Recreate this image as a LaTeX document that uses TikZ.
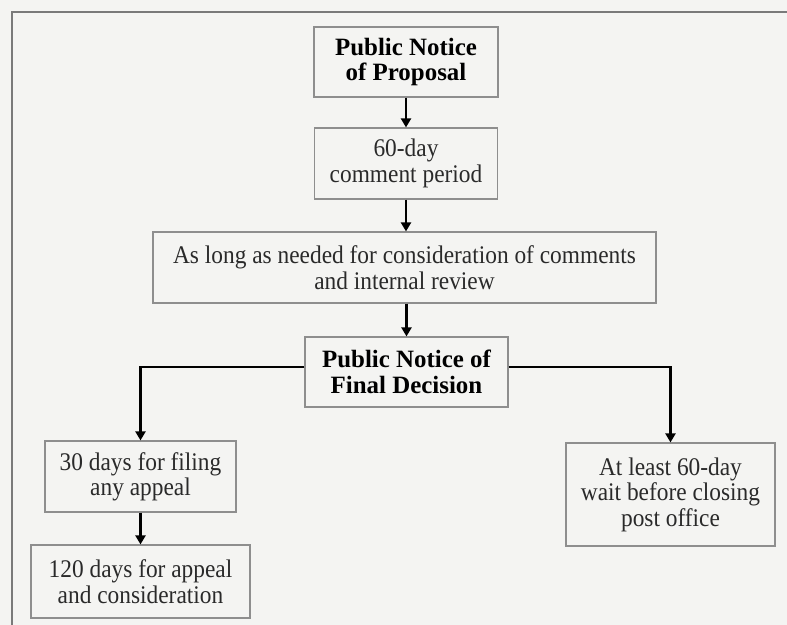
\documentclass[tikz,border=0pt]{standalone}
\usepackage{fontspec}
\setmainfont{Liberation Serif}
\newfontfamily\condfont{Liberation Serif}[FakeStretch=0.92]
\usetikzlibrary{arrows.meta}
\definecolor{bgcol}{HTML}{F4F4F2}
\definecolor{boxgray}{HTML}{8E8E8E}
\definecolor{framegray}{HTML}{7A7A7A}
\definecolor{textgray}{HTML}{2A2A2A}
\begin{document}
\begin{tikzpicture}[x=1bp,y=-1bp,
  box/.style={draw=boxgray, line width=1.2bp, align=center, inner sep=0pt,
    text=textgray, font=\condfont\fontsize{25.5}{25.5}\selectfont},
  boldbox/.style={box, text=black, font=\fontsize{25}{25.5}\selectfont\bfseries},
  arr/.style={line width=2.3bp, -{Triangle[width=10bp,length=9bp]}}]
\fill[bgcol] (0,0) rectangle (787,625);
\useasboundingbox (0,0) rectangle (787,625);
\draw[framegray, line width=2bp] (12,625) -- (12,12) -- (787,12);

\node[boldbox, minimum width=184bp, minimum height=70bp] (b1) at (406,62) {Public Notice\\of Proposal};
\node[box, minimum width=183bp, minimum height=71bp] (b2) at (406,163.5) {60-day\\comment period};
\node[box, minimum width=503bp, minimum height=71bp] (b3) at (404.5,267.5) {As long as needed for consideration of comments\\and internal review};
\node[boldbox, minimum width=203bp, minimum height=70bp] (b4) at (406.5,372) {Public Notice of\\Final Decision};
\node[box, minimum width=191bp, minimum height=71bp] (b5) at (140.5,476.5) {30 days for filing\\any appeal};
\node[box, minimum width=219bp, minimum height=73bp] (b6) at (140.5,581.5) {120 days for appeal\\and consideration};
\node[box, minimum width=209bp, minimum height=103bp] (b7) at (670.5,494.5) {At least 60-day\\wait before closing\\post office};

\draw[arr] (b1.south -| b2.north) -- (b2.north);
\draw[arr] (b2.south) -- (b2.south |- b3.north);
\draw[arr] (b3.south -| b4.north) -- (b4.north);
\draw[arr] ([yshift=5bp]b4.west) -| (b5.north);
\draw[arr] ([yshift=5bp]b4.east) -| (b7.north);
\draw[arr] (b5.south) -- (b6.north);
\end{tikzpicture}
\end{document}
